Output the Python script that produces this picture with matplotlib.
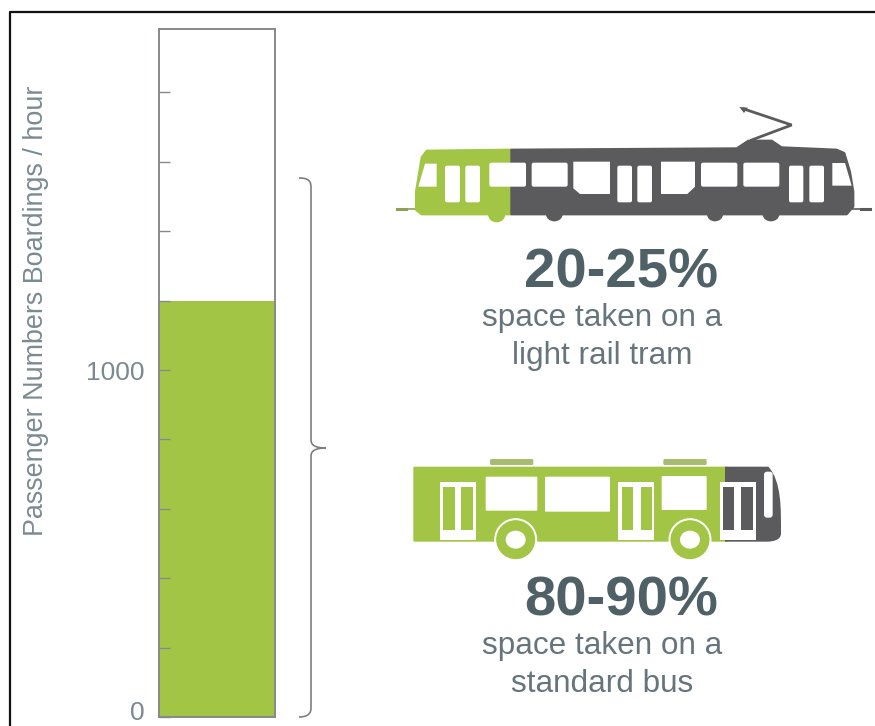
import matplotlib.pyplot as plt
from matplotlib.patches import Circle, Ellipse, Polygon, Rectangle, FancyBboxPatch, PathPatch
from matplotlib.path import Path

WIDTH = 875
HEIGHT = 726

GREEN = "#a2c545"
DARK = "#5b5b5d"
SLATE = "#4f6167"
AXIS_GREY = "#868a88"
TEXT_GREY = "#66757c"
LABEL_GREY = "#7b8a91"

plt.rcParams["font.family"] = ["Liberation Sans", "DejaVu Sans"]

boardings = [1200]
y_ticks = [0, 200, 400, 600, 800, 1000, 1200, 1400, 1600, 1800]
y_labels = {0: "0", 1000: "1000"}
y_top = 1983
y_title = "Passenger Numbers Boardings / hour"

tram_share = "20-25%"
tram_text = ["space taken on a", "light rail tram"]
bus_share = "80-90%"
bus_text = ["space taken on a", "standard bus"]


def px_rect(x0, y0, x1, y1):
    # Axes rectangle in figure fractions from pixel edges, y measured from the top.
    return [x0 / WIDTH, 1 - y1 / HEIGHT, (x1 - x0) / WIDTH, (y1 - y0) / HEIGHT]


def draw_bar(fig):
    ax = fig.add_axes(px_rect(159, 29, 275, 717))
    ax.bar([0], boardings, width=1, color=GREEN, linewidth=0)
    ax.set_xlim(-0.5, 0.5)
    ax.set_ylim(0, y_top)
    ax.set_xticks([])
    ax.set_yticks(y_ticks)
    ax.set_yticklabels([])
    ax.tick_params(axis="y", direction="in", length=8, width=1, color=AXIS_GREY)
    for spine in ax.spines.values():
        spine.set_color(AXIS_GREY)
        spine.set_linewidth(1.4)
    ax.set_axisbelow(False)

    for value, label in y_labels.items():
        shift = (-14, 4) if value == 0 else (-14, -3)
        ax.annotate(label, (0, value), xycoords=("axes fraction", "data"), xytext=shift,
                    textcoords="offset pixels", ha="right", va="center",
                    fontsize=19, color=LABEL_GREY)


def tram_xy(x, y):
    # Tram outline is laid out at 3x in its own box.
    return 390 + x / 3, 95 + y / 3


def draw_tram(ax):
    def shape(points, color, z=2, edge=0.0):
        ax.add_patch(Polygon([tram_xy(*p) for p in points], closed=True, fc=color,
                             ec=color if edge else "none", lw=edge, joinstyle="round", zorder=z))

    def window(x0, y0, x1, y1):
        left, top = tram_xy(x0, y0)
        right, bottom = tram_xy(x1, y1)
        ax.add_patch(FancyBboxPatch((left + 2, top + 2), right - left - 4, bottom - top - 4,
                                    boxstyle="round,pad=2,rounding_size=2",
                                    fc="white", ec="none", zorder=4))

    # couplers: thin rod with a heavier end
    for x0, x1, tip0, tip1, color in [(22, 80, 22, 48, "#8f9f5a"), (1380, 1440, 1412, 1440, DARK)]:
        ax.plot(*zip(tram_xy(x0, 342), tram_xy(x1, 342)), color=color, lw=1.2, zorder=1)
        ax.plot(*zip(tram_xy(tip0, 342), tram_xy(tip1, 342)), color=color, lw=2.2, zorder=1)

    # bogies sit under the floor line
    for cx, color, w in [(320, GREEN, 52), (493, DARK, 50), (975, DARK, 48), (1143, DARK, 50)]:
        x, y = tram_xy(cx, 358)
        depth = 8 if cx == 320 else 7
        ax.add_patch(Ellipse((x, y), w / 3, depth * 2, color=color, lw=0, zorder=1))

    shape([(110, 167), (362, 164), (362, 358), (95, 358), (78, 345), (78, 290), (95, 187)], GREEN, edge=1.5)
    shape([(364, 164), (1040, 160), (1075, 137), (1145, 137), (1175, 157), (1340, 164), (1363, 174),
           (1380, 230), (1390, 290), (1390, 335), (1370, 358), (364, 358)], DARK, edge=1.5)

    # pantograph arm
    arm = [tram_xy(1085, 135), tram_xy(1205, 90), tram_xy(1062, 42)]
    ax.plot(*zip(*arm), color=DARK, lw=2.0, solid_joinstyle="miter", zorder=2)
    shape([(1048, 36), (1074, 38), (1062, 54)], DARK)

    # glazing
    shape([(85, 275), (105, 206), (140, 206), (140, 275)], "white", 4)
    shape([(1327, 204), (1365, 204), (1385, 272), (1327, 272)], "white", 4)
    for x0, x1 in [(165, 210), (226, 270), (682, 726), (742, 786), (1197, 1240), (1258, 1302)]:
        window(x0, 212, x1, 322)
    for x0, x1 in [(298, 408), (425, 533), (933, 1042), (1060, 1168)]:
        window(x0, 203, x1, 275)
    shape([(550, 200), (660, 200), (660, 297), (570, 297), (550, 280)], "white", 4)
    shape([(813, 200), (915, 200), (915, 275), (892, 297), (813, 297)], "white", 4)


def bus_xy(x, y):
    return 400 + x / 3, 445 + y / 3


def draw_bus(ax):
    def box(x0, y0, x1, y1, color, z=3, radius=1.0):
        left, top = bus_xy(x0, y0)
        right, bottom = bus_xy(x1, y1)
        ax.add_patch(FancyBboxPatch((left + radius, top + radius), right - left - 2 * radius,
                                    bottom - top - 2 * radius,
                                    boxstyle=f"round,pad={radius},rounding_size={radius}",
                                    fc=color, ec="none", zorder=z))

    # roof vents
    box(270, 42, 400, 60, "#a9bb72", radius=1.5)
    box(790, 42, 920, 60, "#a9bb72", radius=1.5)

    box(40, 65, 985, 290, GREEN, z=2)

    # cab with the curved nose
    start, end = bus_xy(975, 65), bus_xy(1105, 65)
    verts = [start, end,
             bus_xy(1145, 110), bus_xy(1143, 190), bus_xy(1143, 265),
             bus_xy(1143, 285), bus_xy(1120, 290), bus_xy(1100, 290),
             bus_xy(975, 290), start]
    codes = [Path.MOVETO, Path.LINETO, Path.CURVE4, Path.CURVE4, Path.CURVE4,
             Path.CURVE4, Path.CURVE4, Path.CURVE4, Path.LINETO, Path.CLOSEPOLY]
    ax.add_patch(PathPatch(Path(verts, codes), fc=DARK, ec="none", zorder=2))
    box(1092, 80, 1118, 218, "white", radius=3)

    for x0, y0, x1, y1 in [(257, 95, 412, 197), (435, 95, 630, 200), (785, 93, 920, 195)]:
        box(x0, y0, x1, y1, "white", radius=1)

    doors = [(120, 228, 128, 165, 183, 220, GREEN),
             (655, 762, 665, 700, 722, 755, GREEN),
             (960, 1068, 968, 1003, 1022, 1060, DARK)]
    for x0, x1, a0, a1, b0, b1, pane in doors:
        left, top = bus_xy(x0, 110)
        right, bottom = bus_xy(x1, 286)
        ax.add_patch(Rectangle((left, top), right - left, bottom - top, fc="white", ec="none", zorder=3))
        for p0, p1 in [(a0, a1), (b0, b1)]:
            left, top = bus_xy(p0, 125)
            right, bottom = bus_xy(p1, 255)
            ax.add_patch(Rectangle((left, top), right - left, bottom - top, fc=pane, ec="none", zorder=4))

    for cx in (347, 870):
        x, y = bus_xy(cx, 284)
        ax.add_patch(Circle((x, y), 21.5, fc="white", ec="none", zorder=5))
        ax.add_patch(Circle((x, y), 19.5, fc=GREEN, ec="none", zorder=6))
        ax.add_patch(Ellipse((x, y), 20, 18, fc="white", ec="none", zorder=7))


def draw_bracket(ax):
    verts = [(299, 178), (307, 178), (311, 180), (311, 187),
             (311, 440), (311, 445), (315, 448), (326, 448),
             (315, 448), (311, 451), (311, 456),
             (311, 708), (311, 714), (307, 717), (299, 717)]
    codes = [Path.MOVETO, Path.CURVE4, Path.CURVE4, Path.CURVE4,
             Path.LINETO, Path.CURVE4, Path.CURVE4, Path.CURVE4,
             Path.CURVE4, Path.CURVE4, Path.CURVE4,
             Path.LINETO, Path.CURVE4, Path.CURVE4, Path.CURVE4]
    ax.add_patch(PathPatch(Path(verts, codes), fc="none", ec="#7d8080", lw=1.2))


def main():
    fig = plt.figure(figsize=(WIDTH / 100, HEIGHT / 100), dpi=100)
    fig.patch.set_facecolor("white")

    # full-figure layer in pixel units for the vehicles and captions
    canvas = fig.add_axes([0, 0, 1, 1])
    canvas.set_xlim(0, WIDTH)
    canvas.set_ylim(HEIGHT, 0)
    canvas.axis("off")

    # outer frame: left and top edges only, both run off the figure
    canvas.plot([9.5, 9.5, WIDTH + 2], [HEIGHT + 2, 12, 12], color="#111111", lw=1.6, clip_on=False)

    draw_bar(fig)
    draw_bracket(canvas)
    draw_tram(canvas)
    draw_bus(canvas)

    canvas.text(36.5, 311, y_title, rotation=90, ha="center", va="center", fontsize=19.4, color=LABEL_GREY)

    canvas.text(621, 287, tram_share, ha="center", va="baseline", fontsize=40.5, fontweight="bold", color=SLATE)
    canvas.text(602, 326, tram_text[0], ha="center", va="baseline", fontsize=22.7, color=TEXT_GREY)
    canvas.text(602.5, 364, tram_text[1], ha="center", va="baseline", fontsize=22.7, color=TEXT_GREY)
    canvas.text(621, 616, bus_share, ha="center", va="baseline", fontsize=40.5, fontweight="bold", color=SLATE)
    canvas.text(602, 654, bus_text[0], ha="center", va="baseline", fontsize=22.7, color=TEXT_GREY)
    canvas.text(602, 692, bus_text[1], ha="center", va="baseline", fontsize=22.7, color=TEXT_GREY)

    fig.savefig("out.png", dpi=100)


if __name__ == "__main__":
    main()
